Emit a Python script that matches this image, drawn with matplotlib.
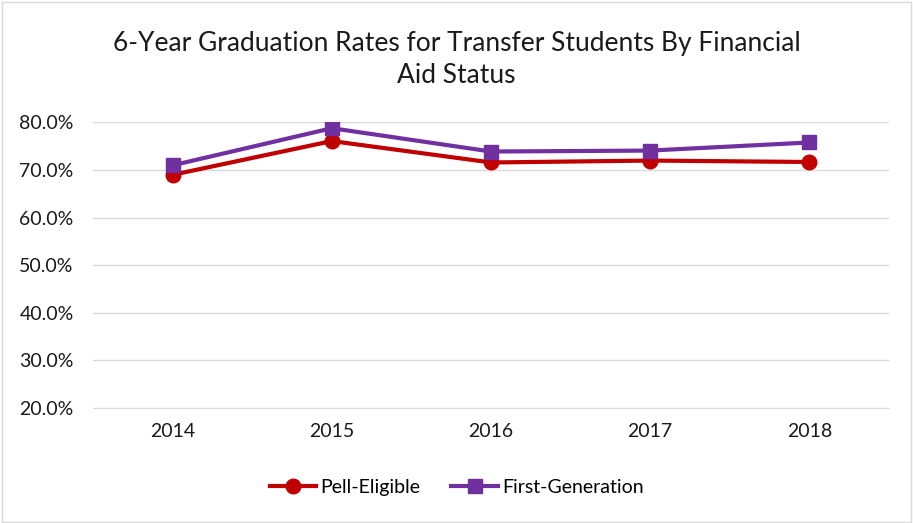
import matplotlib.pyplot as plt
from matplotlib.patches import Rectangle
from matplotlib.ticker import PercentFormatter

years = ["2014", "2015", "2016", "2017", "2018"]
pell_eligible = [69.0, 76.1, 71.6, 72.0, 71.7]
first_generation = [71.0, 78.8, 73.9, 74.1, 75.8]
y_ticks = [20, 30, 40, 50, 60, 70, 80]

plt.rcParams['font.family'] = ['Lato', 'DejaVu Sans']

fig = plt.figure(figsize=(9.13, 5.23), dpi=100)
ax = fig.add_axes([93 / 913, 115 / 523, 796 / 913, 285.5 / 523])

x = range(len(years))
ax.plot(x, pell_eligible, color='#C00000', lw=3, marker='o', ms=10.5,
        label='Pell-Eligible', zorder=3)
ax.plot(x, first_generation, color='#7030A0', lw=3, marker='s', ms=9.5,
        label='First-Generation', zorder=3)

ax.set_xlim(-0.5, len(years) - 0.5)
ax.set_ylim(20, 80)
ax.set_xticks(list(x))
ax.set_xticklabels(years)
ax.set_yticks(y_ticks)
ax.yaxis.set_major_formatter(PercentFormatter(decimals=1))
ax.grid(axis='y', color='#D9D9D9', lw=1)
ax.set_axisbelow(True)
for s in ['top', 'right', 'left']:
    ax.spines[s].set_visible(False)
ax.spines['bottom'].set_color('#D9D9D9')
ax.tick_params(axis='both', length=0, labelsize=14, colors='#1a1a1a')
ax.tick_params(axis='y', pad=14)
ax.tick_params(axis='x', pad=11)

fig.text(0.5, 0.886, "6-Year Graduation Rates for Transfer Students By Financial\nAid Status",
         ha='center', va='center', fontsize=19, color='#1a1a1a', linespacing=1.38)

fig.legend(loc='center', bbox_to_anchor=(0.5, 0.068), ncol=2, frameon=False,
           fontsize=14, handlelength=2.4, columnspacing=1.6, handletextpad=0.2)

fig.patches.append(Rectangle((0.002, 0.002), 0.996, 0.994, transform=fig.transFigure,
                             fill=False, edgecolor='#D9D9D9', lw=1))

fig.savefig('out.png', dpi=100)
